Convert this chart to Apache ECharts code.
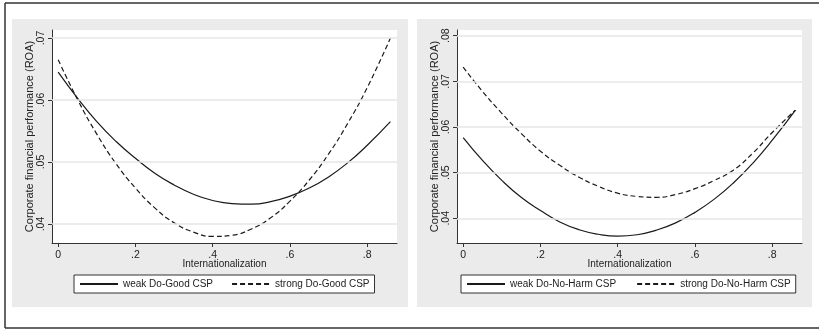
<!DOCTYPE html>
<html><head><meta charset="utf-8">
<script src="https://cdn.jsdelivr.net/npm/echarts@6/dist/echarts.min.js"></script>
<style>html,body{margin:0;padding:0;background:#fff}#c{width:819px;height:329px}</style>
</head><body><div id="c"></div>
<script>
// Internationalization values (x)
const internationalization = [0, 0.05, 0.1, 0.15, 0.2, 0.25, 0.3, 0.35, 0.4, 0.45, 0.5, 0.55, 0.6, 0.65, 0.7, 0.75, 0.8, 0.86];
// Left panel: Do-Good CSP
const weakDoGood   = [0.0645, 0.0603, 0.0565, 0.0533, 0.0506, 0.0482, 0.0463, 0.0448, 0.0438, 0.0433, 0.0432, 0.0436, 0.0445, 0.0458, 0.0476, 0.0499, 0.0527, 0.0565];
const strongDoGood = [0.0665, 0.0601, 0.0545, 0.0497, 0.0458, 0.0426, 0.0402, 0.0387, 0.0380, 0.0382, 0.0392, 0.0410, 0.0437, 0.0471, 0.0513, 0.0563, 0.0620, 0.0700];
// Right panel: Do-No-Harm CSP
const weakDoNoHarm   = [0.0577, 0.0527, 0.0483, 0.0446, 0.0417, 0.0392, 0.0375, 0.0365, 0.0361, 0.0364, 0.0374, 0.0390, 0.0413, 0.0442, 0.0478, 0.0521, 0.0571, 0.0637];
const strongDoNoHarm = [0.0731, 0.0678, 0.0630, 0.0586, 0.0547, 0.0516, 0.0490, 0.0470, 0.0455, 0.0448, 0.0446, 0.0452, 0.0465, 0.0483, 0.0506, 0.0543, 0.0588, 0.0637];
// Tick values
const xTicks = [0, 0.2, 0.4, 0.6, 0.8];
const yTicksLeft = [0.04, 0.05, 0.06, 0.07];
const yTicksRight = [0.04, 0.05, 0.06, 0.07, 0.08];
// Labels
const seriesNamesLeft = ['weak Do-Good CSP', 'strong Do-Good CSP'];
const seriesNamesRight = ['weak Do-No-Harm CSP', 'strong Do-No-Harm CSP'];
const xTitle = 'Internationalization';
const yTitle = 'Corporate financial performance (ROA)';

const FONT = '"Liberation Sans", Arial, sans-serif';
const INK = '#1a1a1a';
const AX = '#333';
const toPairs = ys => internationalization.map((x, i) => [x, ys[i]]);
const fmtX = v => v === 0 ? '0' : v.toFixed(1).replace(/^0/, '');
const fmtY = v => v.toFixed(2).replace(/^0/, '');

function xAxisCfg(gi) {
  return {
    type: 'value', gridIndex: gi, min: -0.016, max: 0.877,
    name: xTitle, nameLocation: 'middle', nameGap: 16, nameMoveOverlap: false,
    nameTextStyle: { fontFamily: FONT, fontSize: 10, color: '#222' },
    axisLine: { show: true, onZero: false, lineStyle: { color: AX, width: 1 } },
    axisTick: { show: true, customValues: xTicks, length: 4, lineStyle: { color: AX } },
    axisLabel: { customValues: xTicks, formatter: fmtX, margin: 7, fontFamily: FONT, fontSize: 10.5, color: '#222' },
    splitLine: { show: false }
  };
}
function yAxisCfg(gi, min, max, ticks) {
  return {
    type: 'value', gridIndex: gi, min: min, max: max,
    name: yTitle, nameLocation: 'middle', nameGap: 17, nameMoveOverlap: false,
    nameTextStyle: { fontFamily: FONT, fontSize: 11, color: '#222' },
    axisLine: { show: true, onZero: false, lineStyle: { color: AX, width: 1 } },
    axisTick: { show: true, customValues: ticks, length: 4, lineStyle: { color: AX } },
    axisLabel: { customValues: ticks, formatter: fmtY, rotate: 90, margin: 5, fontFamily: FONT, fontSize: 10.5, color: '#222' },
    splitLine: { show: false }
  };
}
function gridSeries(gi, ticks) {
  return {
    type: 'line', xAxisIndex: gi, yAxisIndex: gi, data: [], z: 1, silent: true,
    markLine: { silent: true, symbol: 'none', label: { show: false }, animation: false,
      lineStyle: { color: '#e6e6e6', width: 1.5, type: 'solid' },
      data: ticks.map(v => ({ yAxis: v })) }
  };
}
function curve(gi, name, ys, dashed) {
  return {
    type: 'line', name: name, xAxisIndex: gi, yAxisIndex: gi, data: toPairs(ys),
    smooth: true, showSymbol: false, symbol: 'none', z: 3,
    lineStyle: { color: INK, width: 1.2, type: dashed ? [5, 3] : 'solid' },
    itemStyle: { color: INK }
  };
}
function legendCfg(left, names, gap) {
  return {
    data: names, left: left, top: 275, orient: 'horizontal',
    itemWidth: 38, itemHeight: 10, itemGap: gap,
    padding: [4, 5, 4, 5], backgroundColor: '#fff',
    borderColor: AX, borderWidth: 1, borderRadius: 0,
    itemStyle: { opacity: 0 },
    textStyle: { fontFamily: FONT, fontSize: 10, color: '#222' },
    selectedMode: false
  };
}

const chart = echarts.init(document.getElementById('c'), null, { renderer: 'canvas' });
chart.setOption({
  animation: false,
  backgroundColor: '#fff',
  graphic: [
    { type: 'rect', z: -1, shape: { x: 12, y: 19, width: 396, height: 288 }, style: { fill: '#ebebeb' } },
    { type: 'rect', z: -1, shape: { x: 417, y: 19, width: 395, height: 288 }, style: { fill: '#ebebeb' } },
    { type: 'line', z: 10, shape: { x1: 5, y1: 3, x2: 819, y2: 3 }, style: { stroke: '#333', lineWidth: 1.5 } },
    { type: 'line', z: 10, shape: { x1: 5, y1: 328, x2: 819, y2: 328 }, style: { stroke: '#333', lineWidth: 1.5 } },
    { type: 'line', z: 10, shape: { x1: 5, y1: 3, x2: 5, y2: 328 }, style: { stroke: '#333', lineWidth: 1.5 } }
  ],
  grid: [
    { left: 52, top: 30, width: 345, height: 213, show: true, backgroundColor: '#fff', borderWidth: 0 },
    { left: 457, top: 30, width: 345, height: 213, show: true, backgroundColor: '#fff', borderWidth: 0 }
  ],
  xAxis: [xAxisCfg(0), xAxisCfg(1)],
  yAxis: [yAxisCfg(0, 0.03694, 0.07129, yTicksLeft), yAxisCfg(1, 0.03459, 0.08125, yTicksRight)],
  legend: [legendCfg(74, seriesNamesLeft, 18), legendCfg(461, seriesNamesRight, 20)],
  series: [
    gridSeries(0, yTicksLeft),
    gridSeries(1, yTicksRight),
    curve(0, seriesNamesLeft[0], weakDoGood, false),
    curve(0, seriesNamesLeft[1], strongDoGood, true),
    curve(1, seriesNamesRight[0], weakDoNoHarm, false),
    curve(1, seriesNamesRight[1], strongDoNoHarm, true)
  ]
});
</script>
</body></html>
